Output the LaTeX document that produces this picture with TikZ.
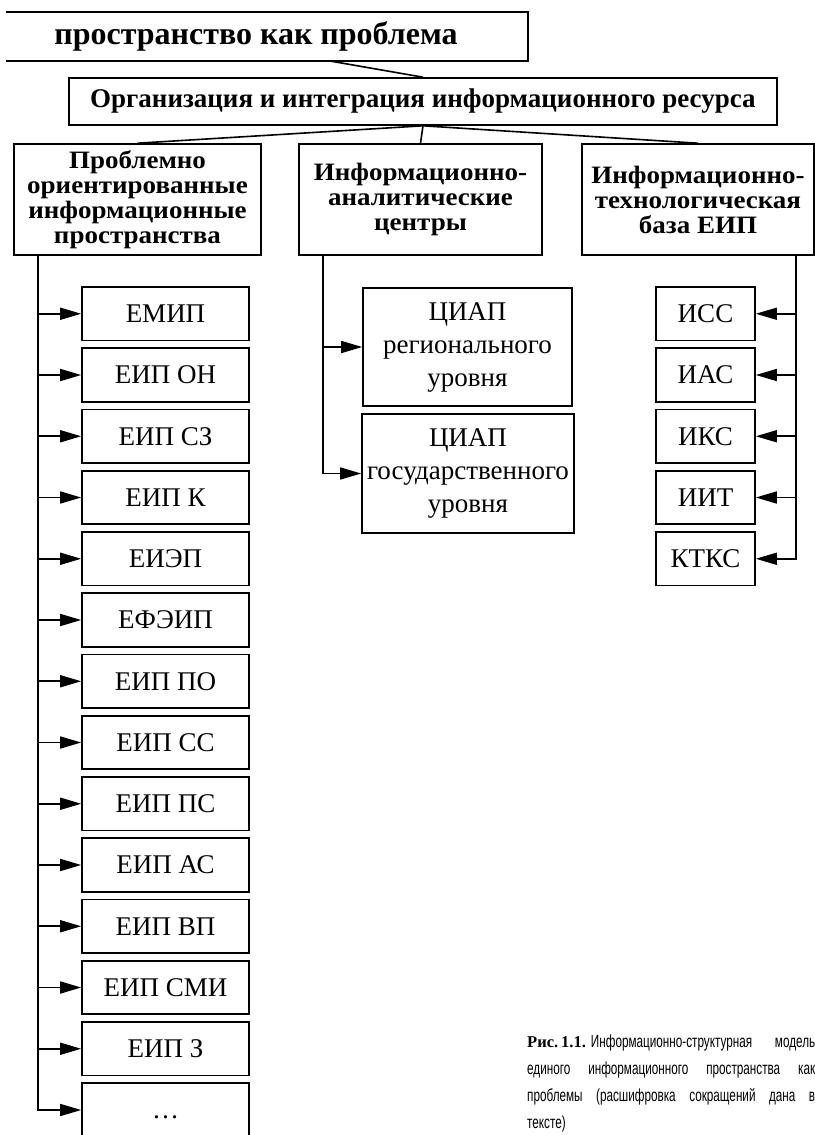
\documentclass[tikz,border=0pt]{standalone}
\usepackage{fontspec}
\setmainfont{Liberation Serif}
\newfontfamily\headfont[FakeStretch=1.08]{Liberation Serif}
\newfontfamily\capfont[FakeStretch=0.67]{Liberation Sans}
\usetikzlibrary{arrows.meta}
\tikzset{
  wire/.style={line width=1.6bp},
  frame/.style={draw,line width=1.6bp,inner sep=0pt,align=center},
  head/.style={frame,font=\headfont\bfseries\fontsize{25bp}{25bp}\selectfont,minimum height=111bp},
  item/.style={frame,font=\fontsize{27bp}{33bp}\selectfont,minimum width=167bp,minimum height=53.5bp},
  tool/.style={item,minimum width=99bp},
  arr/.style={line width=1.6bp,-{Triangle[length=21bp,width=12bp]}}
}
\begin{document}
\begin{tikzpicture}[x=1bp,y=-1bp]
\useasboundingbox (0,0) rectangle (815,1135);
% top of the scheme
\node(title) at (256,36.5) [font=\bfseries\fontsize{32bp}{32bp}\selectfont] {пространство как проблема};
\draw[wire] (6,12) -- (528,12) -- (528,61) -- (6,61);
\coordinate(tb) at (330,61);
\node(org) at (423,101.5) [frame,minimum width=708bp,minimum height=47bp,font=\bfseries\fontsize{27bp}{27bp}\selectfont] {Организация и интеграция информационного ресурса};
\draw[wire] (tb) -- (org.north);
% three branches
\node(space) at (137.5,199.5) [head,minimum width=247bp] {Проблемно\\ориентированные\\информационные\\пространства};
\node(centers) at (420.5,199.5) [head,minimum width=243bp] {Информационно-\\аналитические\\центры};
\node(base) at (698,199.5) [head,minimum width=232bp] {Информационно-\\технологическая\\база ЕИП};
\draw[wire] (org.south) -- (space.north);
\draw[wire] (org.south) -- (centers.north);
\draw[wire] (org.south) -- (base.north);
% left column
\coordinate(lt) at (38,255);
\node(emip) at (165.5,313.75) [item] {ЕМИП};
\node(on) at (165.5,375) [item] {ЕИП ОН};
\node(sz) at (165.5,436.25) [item] {ЕИП СЗ};
\node(k) at (165.5,497.5) [item] {ЕИП К};
\node(eiep) at (165.5,558.75) [item] {ЕИЭП};
\node(efeip) at (165.5,620) [item] {ЕФЭИП};
\node(po) at (165.5,681.25) [item] {ЕИП ПО};
\node(ss) at (165.5,742.5) [item] {ЕИП СС};
\node(ps) at (165.5,803.75) [item] {ЕИП ПС};
\node(as) at (165.5,865) [item] {ЕИП АС};
\node(vp) at (165.5,926.25) [item] {ЕИП ВП};
\node(smi) at (165.5,987.5) [item] {ЕИП СМИ};
\node(z) at (165.5,1048.75) [item] {ЕИП З};
\node(etc) at (165.5,1110) [item] {\vphantom{Е}\dots};
\draw[arr] (lt |- emip) -- (emip);
\draw[arr] (lt |- on) -- (on);
\draw[arr] (lt |- sz) -- (sz);
\draw[arr] (lt |- k) -- (k);
\draw[arr] (lt |- eiep) -- (eiep);
\draw[arr] (lt |- efeip) -- (efeip);
\draw[arr] (lt |- po) -- (po);
\draw[arr] (lt |- ss) -- (ss);
\draw[arr] (lt |- ps) -- (ps);
\draw[arr] (lt |- as) -- (as);
\draw[arr] (lt |- vp) -- (vp);
\draw[arr] (lt |- smi) -- (smi);
\draw[arr] (lt |- z) -- (z);
\draw[arr] (lt) |- (etc);
% middle column
\coordinate(mt) at (323,255);
\node(reg) at (467.5,347) [frame,minimum width=209bp,minimum height=118bp,font=\fontsize{27bp}{33bp}\selectfont] {ЦИАП\\регионального\\уровня};
\node(gos) at (468,473.5) [frame,minimum width=212bp,minimum height=119bp,font=\fontsize{27bp}{33bp}\selectfont] {ЦИАП\\государственного\\уровня};
\draw[arr] (mt |- reg) -- (reg);
\draw[arr] (mt) |- (gos);
% right column
\coordinate(rt) at (796,255);
\node(iss) at (705.5,313.75) [tool] {ИСС};
\node(ias) at (705.5,375) [tool] {ИАС};
\node(iks) at (705.5,436.25) [tool] {ИКС};
\node(iit) at (705.5,497.5) [tool] {ИИТ};
\node(ktks) at (705.5,558.75) [tool] {КТКС};
\draw[arr] (rt |- iss) -- (iss);
\draw[arr] (rt |- ias) -- (ias);
\draw[arr] (rt |- iks) -- (iks);
\draw[arr] (rt |- iit) -- (iit);
\draw[arr] (rt) |- (ktks);
% caption
\node(caption) at (527,1035) [anchor=north west,inner sep=0pt,align=left,font=\capfont\fontsize{17.5bp}{27bp}\selectfont] {\makebox[288bp][l]{{\rmfamily\bfseries\fontsize{16.5bp}{27bp}\selectfont Рис.\hspace{3bp}1.1.}\hspace{5bp}Информационно-структурная\hfill модель}\\
\makebox[288bp][s]{единого информационного пространства как}\\
\makebox[288bp][s]{проблемы (расшифровка сокращений дана в}\\
тексте)};
\end{tikzpicture}
\end{document}
